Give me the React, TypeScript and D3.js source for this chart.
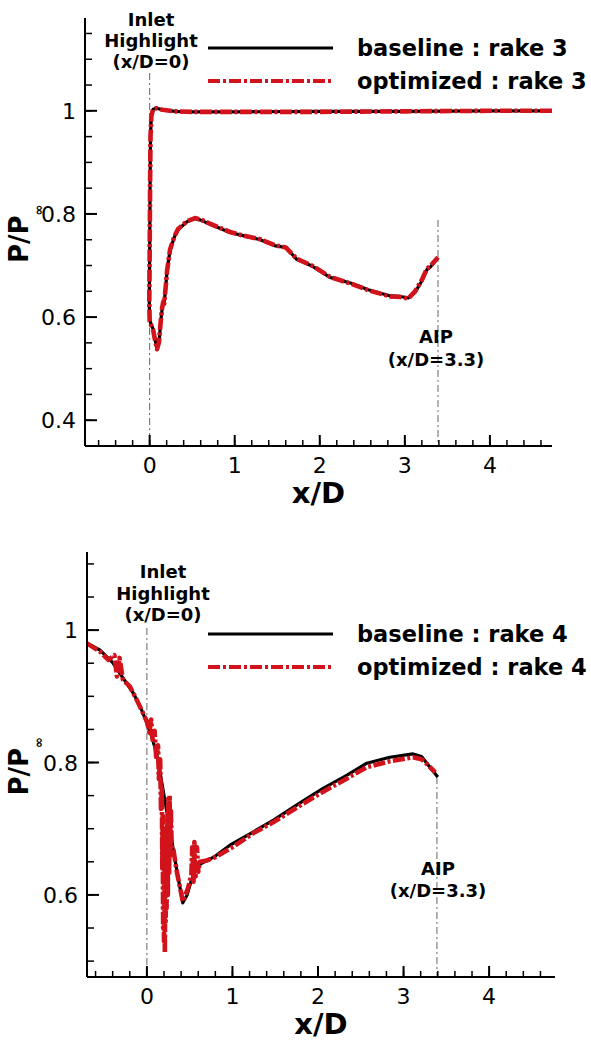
import React from 'react'
import * as d3 from 'd3'

type Pt = [number, number]

const FONT = '"DejaVu Sans", Verdana, sans-serif'
const RED = '#d2131b'

// rake 3 : one surface line, read from the outer branch (x/D=4.7) back round the lip and down the duct
const rake3Base: Pt[] = [
  [4.73, 1.0], [4.0, 1.0], [3.0, 0.999], [2.0, 0.999], [1.0, 0.998], [0.5, 0.998], [0.3, 0.999],
  [0.15, 1.002], [0.08, 1.005], [0.04, 1.003], [0.02, 0.99], [0.01, 0.95], [0.005, 0.85], [0.0, 0.72],
  [-0.004, 0.63], [0.0, 0.595], [0.02, 0.585], [0.04, 0.577], [0.06, 0.56], [0.087, 0.537], [0.11, 0.55],
  [0.13, 0.59], [0.146, 0.615], [0.16, 0.628], [0.17, 0.625], [0.19, 0.66], [0.205, 0.69], [0.24, 0.73],
  [0.29, 0.755], [0.334, 0.77], [0.44, 0.785], [0.534, 0.791], [0.6, 0.788], [0.71, 0.78], [0.945, 0.764],
  [1.1, 0.758], [1.3, 0.75], [1.48, 0.738], [1.6, 0.735], [1.73, 0.712], [1.92, 0.698], [2.12, 0.677],
  [2.38, 0.665], [2.57, 0.653], [2.83, 0.641], [2.95, 0.64], [3.04, 0.637], [3.12, 0.648], [3.2, 0.67],
  [3.26, 0.692], [3.3, 0.697], [3.39, 0.715],
]
const rake3Opt: Pt[] = [
  [4.73, 1.0], [4.0, 1.0], [3.0, 0.999], [2.0, 0.998], [1.0, 0.998], [0.5, 0.998], [0.3, 0.999],
  [0.15, 1.002], [0.08, 1.005], [0.04, 1.003], [0.02, 0.99], [0.01, 0.95], [0.005, 0.85], [0.0, 0.72],
  [-0.004, 0.63], [0.0, 0.592], [0.02, 0.583], [0.04, 0.576], [0.06, 0.558], [0.087, 0.538], [0.11, 0.552],
  [0.13, 0.592], [0.146, 0.617], [0.16, 0.63], [0.17, 0.626], [0.19, 0.661], [0.205, 0.69], [0.24, 0.731],
  [0.29, 0.756], [0.334, 0.771], [0.44, 0.786], [0.534, 0.792], [0.6, 0.789], [0.71, 0.781], [0.945, 0.765],
  [1.1, 0.758], [1.3, 0.751], [1.48, 0.739], [1.6, 0.735], [1.73, 0.713], [1.92, 0.699], [2.12, 0.678],
  [2.38, 0.664], [2.57, 0.652], [2.83, 0.64], [2.95, 0.639], [3.04, 0.636], [3.12, 0.65], [3.2, 0.672],
  [3.26, 0.694], [3.3, 0.699], [3.39, 0.716],
]

// rake 4
const rake4Base: Pt[] = [
  [-0.7, 0.98], [-0.55, 0.97], [-0.4, 0.951], [-0.28, 0.928], [-0.16, 0.905], [-0.08, 0.885], [0.0, 0.86],
  [0.06, 0.838], [0.12, 0.81], [0.19, 0.758], [0.27, 0.698], [0.35, 0.637], [0.42, 0.588], [0.47, 0.6],
  [0.52, 0.622], [0.6, 0.645], [0.78, 0.657], [0.97, 0.675], [1.24, 0.695], [1.48, 0.713], [1.79, 0.739],
  [2.06, 0.761], [2.34, 0.781], [2.57, 0.799], [2.84, 0.808], [3.11, 0.813], [3.21, 0.809], [3.29, 0.796],
  [3.4, 0.778],
]
const rake4Opt: Pt[] = [
  [-0.7, 0.98], [-0.55, 0.968], [-0.45, 0.955], [-0.38, 0.962], [-0.35, 0.93], [-0.32, 0.958], [-0.28, 0.925],
  [-0.2, 0.915], [-0.12, 0.895], [-0.05, 0.876], [0.0, 0.862], [0.03, 0.845], [0.05, 0.865], [0.07, 0.83],
  [0.09, 0.848], [0.11, 0.805], [0.13, 0.826], [0.14, 0.775], [0.155, 0.805], [0.165, 0.73], [0.175, 0.76],
  [0.18, 0.64], [0.185, 0.72], [0.19, 0.55], [0.195, 0.7], [0.2, 0.53], [0.205, 0.68], [0.21, 0.512],
  [0.215, 0.64], [0.22, 0.56], [0.225, 0.7], [0.23, 0.58], [0.24, 0.72], [0.245, 0.6], [0.25, 0.745],
  [0.26, 0.63], [0.265, 0.75], [0.275, 0.66], [0.28, 0.73], [0.29, 0.67], [0.31, 0.668], [0.35, 0.635],
  [0.42, 0.59], [0.48, 0.61], [0.52, 0.63], [0.53, 0.672], [0.545, 0.62], [0.555, 0.68], [0.57, 0.628],
  [0.585, 0.672], [0.6, 0.635], [0.62, 0.65], [0.7, 0.652], [0.8, 0.657], [1.0, 0.672],
  [1.24, 0.693], [1.48, 0.71], [1.79, 0.735], [2.06, 0.756], [2.34, 0.776], [2.57, 0.793], [2.84, 0.802],
  [3.11, 0.808], [3.21, 0.805], [3.28, 0.797], [3.37, 0.785],
]

const xTicks = [0, 1, 2, 3, 4]
const yTicksTop = [0.4, 0.6, 0.8, 1]
const yTicksBottom = [0.6, 0.8, 1]
const legendTop = ['baseline : rake 3', 'optimized : rake 3']
const legendBottom = ['baseline : rake 4', 'optimized : rake 4']
const inletText = ['Inlet', 'Highlight', '(x/D=0)']
const aipText = ['AIP', '(x/D=3.3)']
const inletX = 0
const aipX = 3.39

type PanelProps = {
  xDomain: [number, number]
  yDomain: [number, number]
  px: [number, number]
  py: [number, number]
  base: Pt[]
  opt: Pt[]
  yTicks: number[]
  legend: string[]
  legendY: [number, number]
  inletLabel: { x: number; y: number[] }
  inletTop: number
  aipLabel: { x: number; y: number[] }
  aipTop: number
}

function Panel(p: PanelProps) {
  const x = d3.scaleLinear().domain(p.xDomain).range(p.px)
  const y = d3.scaleLinear().domain(p.yDomain).range(p.py)
  const [left, right] = p.px
  const [bottom, top] = p.py
  const path = d3.line<Pt>().x(d => x(d[0])).y(d => y(d[1]))
  const xMinor = d3.range(Math.ceil(p.xDomain[0] / 0.2) * 0.2, p.xDomain[1], 0.2)
  const yMinor = d3.range(Math.ceil(p.yDomain[0] / 0.05) * 0.05, p.yDomain[1], 0.05)

  return (
    <g fontFamily={FONT}>
      {/* reference lines */}
      <line x1={x(inletX)} x2={x(inletX)} y1={p.inletTop} y2={bottom} stroke="#666" strokeWidth={1} strokeDasharray="7,3,2,3" />
      <line x1={x(aipX)} x2={x(aipX)} y1={p.aipTop} y2={bottom} stroke="#666" strokeWidth={1} strokeDasharray="7,3,2,3" />

      {/* data: red dash-dot drawn over the black so the black shows in the gaps */}
      <path d={path(p.base) ?? ''} fill="none" stroke="#000" strokeWidth={3.2} strokeLinejoin="round" />
      <path d={path(p.opt) ?? ''} fill="none" stroke={RED} strokeWidth={4.6} strokeDasharray="12,2.5,3,2.5" strokeLinejoin="round" />

      {/* axes */}
      <line x1={left} x2={left} y1={top} y2={bottom} stroke="#000" strokeWidth={2} />
      <line x1={left} x2={right} y1={bottom} y2={bottom} stroke="#000" strokeWidth={2} />
      {yMinor.map(v => (
        <line key={'ym' + v} x1={left} x2={left + 7} y1={y(v)} y2={y(v)} stroke="#000" strokeWidth={1.5} />
      ))}
      {p.yTicks.map(v => (
        <g key={'y' + v}>
          <line x1={left} x2={left + 12} y1={y(v)} y2={y(v)} stroke="#000" strokeWidth={2} />
          <text x={left - 9} y={y(v) + 8} textAnchor="end" fontSize={22}>{String(v)}</text>
        </g>
      ))}
      {xMinor.map(v => (
        <line key={'xm' + v} x1={x(v)} x2={x(v)} y1={bottom} y2={bottom - 6} stroke="#000" strokeWidth={1.5} />
      ))}
      {xTicks.map(v => (
        <g key={'x' + v}>
          <line x1={x(v)} x2={x(v)} y1={bottom} y2={bottom - 11} stroke="#000" strokeWidth={2} />
          <text x={x(v)} y={bottom + 27} textAnchor="middle" fontSize={22}>{String(v)}</text>
        </g>
      ))}
      <text x={(left + right) / 2} y={bottom + 57} textAnchor="middle" fontSize={29} fontWeight="bold">x/D</text>
      <text transform={`translate(28,${(top + bottom) / 2 + 31}) rotate(-90)`} fontSize={26} fontWeight="bold">
        P/P<tspan fontSize={13} dy={15}>∞</tspan>
      </text>

      {/* legend */}
      <line x1={208} x2={333} y1={p.legendY[0]} y2={p.legendY[0]} stroke="#000" strokeWidth={3.2} />
      <line x1={208} x2={333} y1={p.legendY[1]} y2={p.legendY[1]} stroke={RED} strokeWidth={4} strokeDasharray="12,3,3,3" />
      {p.legend.map((t, i) => (
        <text key={t} x={357} y={p.legendY[i] + 8} fontSize={22.5} fontWeight="bold">{t}</text>
      ))}

      {/* annotations */}
      {inletText.map((t, i) => (
        <text key={t} x={p.inletLabel.x} y={p.inletLabel.y[i]} textAnchor="middle" fontSize={18} fontWeight="bold">{t}</text>
      ))}
      {aipText.map((t, i) => (
        <text key={t} x={p.aipLabel.x} y={p.aipLabel.y[i]} textAnchor="middle" fontSize={18} fontWeight="bold">{t}</text>
      ))}
    </g>
  )
}

export default function App() {
  return (
    <svg width={591} height={1041} style={{ position: 'absolute', left: 0, top: 0, background: '#fff' }}>
      <Panel
        xDomain={[-0.76, 4.73]} yDomain={[0.35, 1.18]} px={[85, 552]} py={[446, 18]}
        base={rake3Base} opt={rake3Opt} yTicks={yTicksTop} legend={legendTop} legendY={[48, 81]}
        inletLabel={{ x: 151, y: [26, 47, 68] }} inletTop={73}
        aipLabel={{ x: 436, y: [343, 366] }} aipTop={220}
      />
      <Panel
        xDomain={[-0.7, 4.77]} yDomain={[0.476, 1.118]} px={[87, 555]} py={[977, 552]}
        base={rake4Base} opt={rake4Opt} yTicks={yTicksBottom} legend={legendBottom} legendY={[634, 667]}
        inletLabel={{ x: 163, y: [578, 600, 621] }} inletTop={628}
        aipLabel={{ x: 438, y: [875, 897] }} aipTop={777}
      />
    </svg>
  )
}
